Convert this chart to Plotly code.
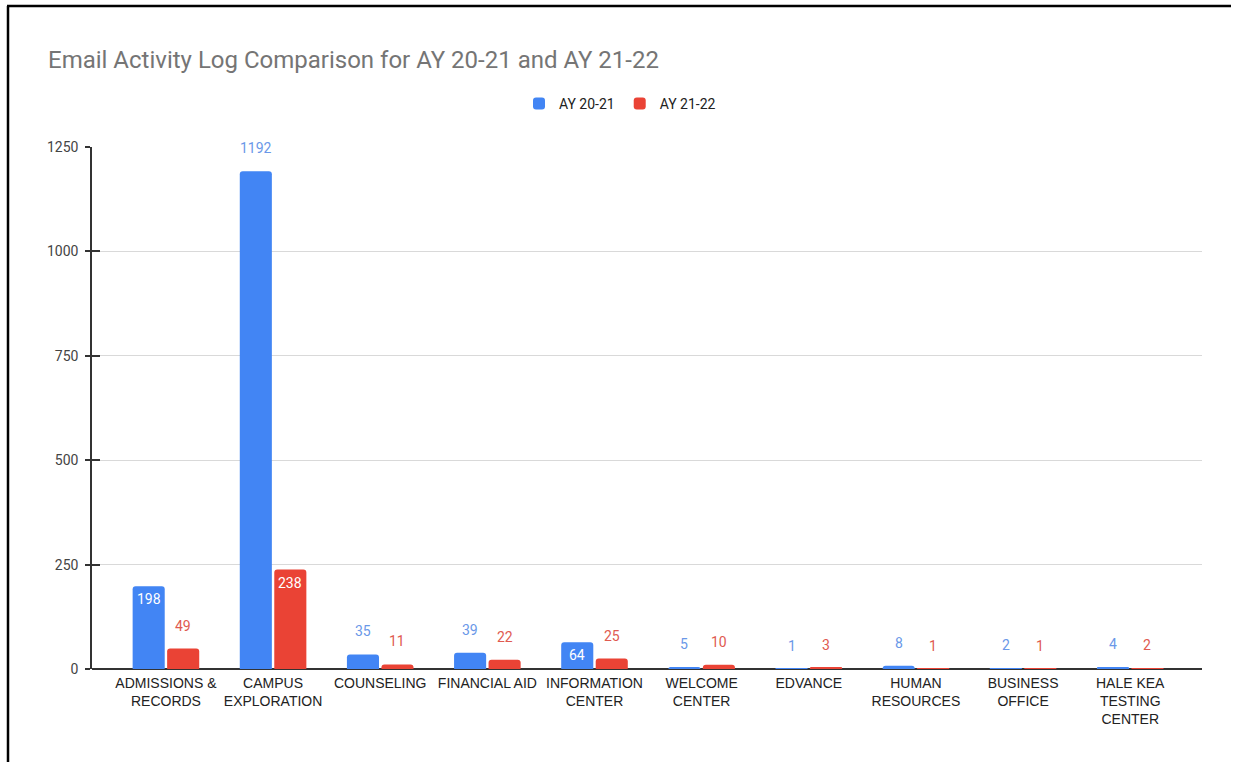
import plotly.graph_objects as go

# Offices and email counts per academic year
categories = [
    "ADMISSIONS &<br>RECORDS",
    "CAMPUS<br>EXPLORATION",
    "COUNSELING",
    "FINANCIAL AID",
    "INFORMATION<br>CENTER",
    "WELCOME<br>CENTER",
    "EDVANCE",
    "HUMAN<br>RESOURCES",
    "BUSINESS<br>OFFICE",
    "HALE KEA<br>TESTING<br>CENTER",
]
ay_2021 = [198, 1192, 35, 39, 64, 5, 1, 8, 2, 4]
ay_2122 = [49, 238, 11, 22, 25, 10, 3, 1, 1, 2]
series_names = ["AY 20-21", "AY 21-22"]
y_ticks = [0, 250, 500, 750, 1000, 1250]

# Labels drawn in white inside the bar top: (series index, category index)
inside_labels = {(0, 0), (1, 1), (0, 4)}

W, H = 1233, 763
L, R, T, B = 92, 31, 147, 94

bar_colors = ["#4285F4", "#EA4335"]
label_colors = ["#6a98e8", "#e05a50"]
FONT = "Roboto, Arial, sans-serif"

fig = go.Figure()
for k, (name, vals) in enumerate(zip(series_names, [ay_2021, ay_2122])):
    fig.add_trace(go.Bar(
        x=list(range(len(categories))),
        y=vals,
        name=name,
        marker=dict(color=bar_colors[k], line=dict(width=0)),
        hoverinfo="skip",
    ))

# Value labels above (or just inside) each bar
annotations = []
offset = 0.161
for k, vals in enumerate([ay_2021, ay_2122]):
    dx = -offset if k == 0 else offset
    for i, v in enumerate(vals):
        inside = (k, i) in inside_labels
        annotations.append(dict(
            x=i + dx, y=v, xref="x", yref="y",
            text=str(v), showarrow=False,
            yshift=-13 if inside else 23,
            font=dict(family=FONT, size=14,
                      color="#ffffff" if inside else label_colors[k]),
        ))

# Frame lines along the top and left edge of the page
pw, ph = W - L - R, H - T - B
def px_x(px):
    return (px - L) / pw
def px_y(py):
    return (H - B - py) / ph

shapes = [
    dict(type="line", xref="paper", yref="paper",
         x0=px_x(7), x1=px_x(W - 2), y0=px_y(6), y1=px_y(6),
         line=dict(color="#000000", width=2.5)),
    dict(type="line", xref="paper", yref="paper",
         x0=px_x(8), x1=px_x(8), y0=px_y(6), y1=px_y(H - 1),
         line=dict(color="#000000", width=2.5)),
]

fig.update_layout(
    width=W, height=H,
    margin=dict(l=L, r=R, t=T, b=B, autoexpand=False),
    paper_bgcolor="#ffffff",
    plot_bgcolor="#ffffff",
    font=dict(family=FONT, size=14, color="#444444"),
    title=dict(
        text="Email Activity Log Comparison for AY 20-21 and AY 21-22",
        x=48 / W, xref="container", xanchor="left",
        y=1 - 60 / H, yref="container", yanchor="middle",
        font=dict(family=FONT, size=24, color="#757575"),
    ),
    legend=dict(
        orientation="h",
        x=px_x(620), xanchor="center",
        y=px_y(104), yanchor="middle",
        font=dict(family=FONT, size=14, color="#222222"),
        itemclick=False, itemdoubleclick=False,
    ),
    bargap=0.356,
    bargroupgap=0.07,
    barcornerradius=3,
    xaxis=dict(
        range=[-0.69, 9.67],
        tickmode="array",
        tickvals=list(range(len(categories))),
        ticktext=categories,
        tickangle=0,
        showgrid=False,
        zeroline=False,
        showline=False,
        ticks="",
        ticklabelstandoff=4,
        tickfont=dict(family="Liberation Sans, Arial, sans-serif", size=14,
                      color="#222222"),
        fixedrange=True,
    ),
    yaxis=dict(
        range=[0, 1250],
        tickmode="array",
        tickvals=y_ticks,
        showgrid=True,
        gridcolor="#d9d9d9",
        gridwidth=1,
        zeroline=True,
        zerolinecolor="#333333",
        zerolinewidth=1.5,
        showline=True,
        linecolor="#333333",
        linewidth=1.5,
        ticks="outside",
        ticklen=5,
        tickcolor="#333333",
        tickwidth=1.5,
        ticklabelstandoff=4,
        tickfont=dict(family=FONT, size=14, color="#444444"),
        fixedrange=True,
    ),
    yaxis2=dict(
        overlaying="y",
        matches="y",
        range=[0, 1250],
        tickmode="array",
        tickvals=y_ticks,
        showgrid=False,
        zeroline=False,
        showline=False,
        showticklabels=False,
        ticks="inside",
        ticklen=8,
        tickcolor="#333333",
        tickwidth=1.5,
        fixedrange=True,
    ),
    annotations=annotations,
    shapes=shapes,
    showlegend=True,
)

# Invisible trace so the inner tick marks axis is drawn
fig.add_trace(go.Scatter(x=[None], y=[None], yaxis="y2", showlegend=False,
                         hoverinfo="skip"))

fig.write_html("out.html", config={"displayModeBar": False})
